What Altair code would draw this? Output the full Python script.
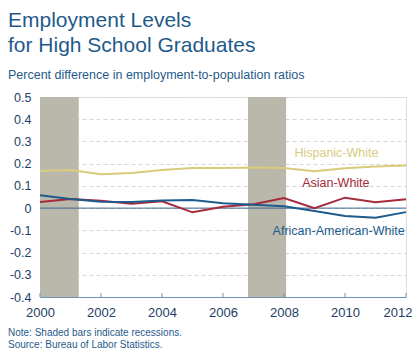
import altair as alt
import pandas as pd

years = list(range(2000, 2013))
hispanic_white = [0.167, 0.172, 0.152, 0.158, 0.172, 0.180, 0.181, 0.183, 0.180, 0.166, 0.179, 0.187, 0.192]
asian_white = [0.027, 0.041, 0.033, 0.020, 0.031, -0.019, 0.006, 0.017, 0.045, 0.000, 0.047, 0.026, 0.040]
african_american_white = [0.058, 0.041, 0.029, 0.027, 0.034, 0.036, 0.022, 0.015, 0.008, -0.013, -0.035, -0.043, -0.018]

series_names = ["Hispanic-White", "Asian-White", "African-American-White"]
series_colors = ["#d8cc7c", "#a52a3b", "#1d5b8c"]
label_colors = ["#d6cb80", "#a52a3b", "#1d5b8c"]
label_x = [2009.72, 2009.7, 2009.79]
label_y = [0.25, 0.113, -0.102]

recession_start = [2000.0, 2006.82]
recession_end = [2001.27, 2008.07]

x_ticks = [2000, 2002, 2004, 2006, 2008, 2010, 2012]
y_ticks = [0.5, 0.4, 0.3, 0.2, 0.1, 0.0, -0.1, -0.2, -0.3, -0.4]

W, H = 366, 200
PL, PT = 32, 89
FONT = "Liberation Sans"
TXT = "#1f5a8a"
AX = "#1e3d66"

rows = []
for name, vals in zip(series_names, [hispanic_white, asian_white, african_american_white]):
    for yr, v in zip(years, vals):
        rows.append({"year": yr, "value": v, "series": name})
df = pd.DataFrame(rows)
labels_df = pd.DataFrame({"series": series_names, "x": label_x, "y": label_y})
rec_df = pd.DataFrame({"start": recession_start, "end": recession_end,
                       "lo": [-0.4] * 2, "hi": [0.5] * 2})
xt_df = pd.DataFrame({"year": x_ticks})

xscale = alt.Scale(domain=[2000, 2012], nice=False)
yscale = alt.Scale(domain=[-0.4, 0.5], nice=False)
cscale = alt.Scale(domain=series_names, range=series_colors)

x_axis = alt.Axis(values=x_ticks, format="d", title=None, grid=False, ticks=False,
                  domainColor="#6f93b8", labelColor=AX, labelFont=FONT, labelFontSize=13,
                  labelPadding=9, labelFlush=False, labelBound=False, labelOverlap=False,
                  labelAlign=alt.expr("datum.value == 2012 ? 'right' : 'center'"),
                  labelOffset=alt.expr("datum.value == 2012 ? 6 : 0"))
y_axis = alt.Axis(values=y_ticks, title=None, grid=True, gridColor="#d6d6d6", gridDash=[4, 3],
                  ticks=False, domainColor="#6f93b8", labelColor=AX, labelFont=FONT,
                  labelFontSize=12.5, labelPadding=9, labelFlush=False, labelOverlap=False,
                  labelBound=False,
                  labelExpr="datum.value == 0 ? '0' : (datum.value < 0 ? '-' + format(-datum.value, '.1f') : format(datum.value, '.1f'))")

rec = alt.Chart(rec_df).mark_rect(color="#bab8aa").encode(
    x=alt.X("start:Q", scale=xscale, axis=x_axis), x2="end:Q",
    y=alt.Y("lo:Q", scale=yscale, axis=y_axis), y2="hi:Q",
)

zero = alt.Chart(pd.DataFrame({"z": [0.0]})).mark_rule(color="#3a6890", strokeWidth=1).encode(
    y=alt.Y("z:Q", scale=yscale, axis=y_axis)
)

lines = alt.Chart(df).mark_line(strokeWidth=2).encode(
    x=alt.X("year:Q", scale=xscale, axis=x_axis),
    y=alt.Y("value:Q", scale=yscale, axis=y_axis),
    color=alt.Color("series:N", scale=cscale, legend=None),
    detail="series:N",
)

labels = alt.Chart(labels_df).mark_text(font=FONT, fontSize=12.5, align="center", baseline="middle").encode(
    x=alt.X("x:Q", scale=xscale, axis=x_axis),
    y=alt.Y("y:Q", scale=yscale, axis=y_axis),
    text="series:N",
    color=alt.Color("series:N", scale=alt.Scale(domain=series_names, range=label_colors), legend=None),
)

xticks = alt.Chart(xt_df).mark_rule(color="#6f93b8").encode(
    x=alt.X("year:Q", scale=xscale, axis=x_axis),
    y=alt.value(H - 4), y2=alt.value(H),
)

def txt(s, x, y, size, color=TXT):
    return alt.Chart(pd.DataFrame({"t": [s]})).mark_text(
        font=FONT, fontSize=size, align="left", baseline="alphabetic", color=color
    ).encode(x=alt.value(x), y=alt.value(y), text="t:N")

title1 = txt("Employment Levels", -PL, -70, 21)
title2 = txt("for High School Graduates", -PL, -45, 21)
subtitle = txt("Percent difference in employment-to-population ratios", -PL, -18, 12.5)
note1 = txt("Note: Shaded bars indicate recessions.", -PL, 239, 10)
note2 = txt("Source: Bureau of Labor Statistics.", -PL, 251, 10)

chart = alt.layer(
    rec, zero, lines, labels, xticks, title1, title2, subtitle, note1, note2
).resolve_scale(color="independent").properties(
    width=W, height=H,
    autosize=alt.AutoSizeParams(type="none"),
    padding={"left": PL, "top": PT, "right": 6, "bottom": 53},
).configure_view(stroke=None).configure(background="white")

chart.save("out.html", embed_options={"renderer": "svg", "actions": False})
